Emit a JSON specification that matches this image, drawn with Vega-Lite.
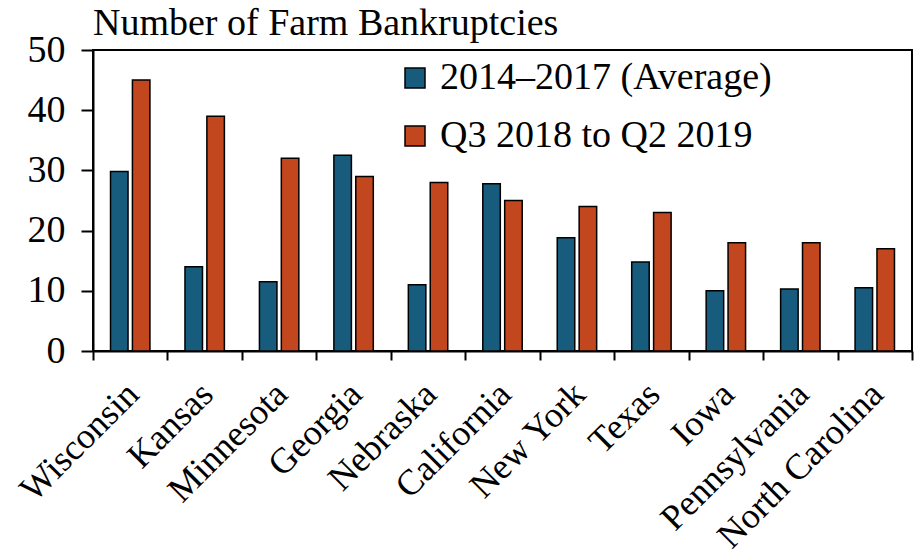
{
  "$schema": "https://vega.github.io/schema/vega-lite/v6.json",
  "width": 819,
  "height": 301,
  "autosize": {"type": "none"},
  "padding": {"left": 93, "top": 50, "right": 7, "bottom": 207},
  "background": "white",
  "title": {
    "text": "Number of Farm Bankruptcies",
    "anchor": "start",
    "frame": "group",
    "font": "Liberation Serif",
    "fontSize": 38,
    "fontWeight": "normal",
    "color": "black",
    "offset": -12
  },
  "config": {
    "view": {"stroke": "black", "strokeWidth": 2},
    "axis": {"grid": false, "domainColor": "black", "domainWidth": 2, "tickColor": "black", "tickWidth": 2, "labelFont": "Liberation Serif", "labelFontSize": 36, "labelColor": "black", "title": null}
  },
  "data": {
    "values": [
      {"state": "Wisconsin", "series": "2014–2017 (Average)", "value": 29.8},
      {"state": "Wisconsin", "series": "Q3 2018 to Q2 2019", "value": 45},
      {"state": "Kansas", "series": "2014–2017 (Average)", "value": 14},
      {"state": "Kansas", "series": "Q3 2018 to Q2 2019", "value": 39},
      {"state": "Minnesota", "series": "2014–2017 (Average)", "value": 11.5},
      {"state": "Minnesota", "series": "Q3 2018 to Q2 2019", "value": 32},
      {"state": "Georgia", "series": "2014–2017 (Average)", "value": 32.5},
      {"state": "Georgia", "series": "Q3 2018 to Q2 2019", "value": 29},
      {"state": "Nebraska", "series": "2014–2017 (Average)", "value": 11},
      {"state": "Nebraska", "series": "Q3 2018 to Q2 2019", "value": 28},
      {"state": "California", "series": "2014–2017 (Average)", "value": 27.8},
      {"state": "California", "series": "Q3 2018 to Q2 2019", "value": 25},
      {"state": "New York", "series": "2014–2017 (Average)", "value": 18.8},
      {"state": "New York", "series": "Q3 2018 to Q2 2019", "value": 24},
      {"state": "Texas", "series": "2014–2017 (Average)", "value": 14.8},
      {"state": "Texas", "series": "Q3 2018 to Q2 2019", "value": 23},
      {"state": "Iowa", "series": "2014–2017 (Average)", "value": 10},
      {"state": "Iowa", "series": "Q3 2018 to Q2 2019", "value": 18},
      {"state": "Pennsylvania", "series": "2014–2017 (Average)", "value": 10.3},
      {"state": "Pennsylvania", "series": "Q3 2018 to Q2 2019", "value": 18},
      {"state": "North Carolina", "series": "2014–2017 (Average)", "value": 10.5},
      {"state": "North Carolina", "series": "Q3 2018 to Q2 2019", "value": 17}
    ]
  },
  "mark": {"type": "bar", "stroke": "black", "strokeWidth": 1.5},
  "encoding": {
    "x": {
      "field": "state", "type": "nominal", "sort": null,
      "scale": {"paddingInner": 0, "paddingOuter": 0},
      "axis": {"tickBand": "extent", "tickSize": 9, "labelAngle": -45, "labelAlign": "right", "labelBaseline": "alphabetic", "labelOffset": 10, "labelPadding": 36, "labelLimit": 400, "labelOverlap": false}
    },
    "xOffset": {
      "field": "series", "type": "nominal",
      "scale": {"paddingInner": 0.2, "paddingOuter": 0.8}
    },
    "y": {
      "field": "value", "type": "quantitative",
      "scale": {"domain": [0, 50], "nice": false},
      "axis": {"values": [0, 10, 20, 30, 40, 50], "tickSize": 12, "labelPadding": 16, "labelFontSize": 38}
    },
    "color": {
      "field": "series", "type": "nominal",
      "scale": {"range": ["#175c7d", "#c2461e"]},
      "legend": {
        "title": null, "orient": "none", "legendX": 303, "legendY": 9,
        "symbolType": "square", "symbolSize": 400, "symbolStrokeColor": "black", "symbolStrokeWidth": 1.5,
        "labelFont": "Liberation Serif", "labelFontSize": 38, "labelColor": "black", "labelOffset": 6, "rowPadding": 20, "labelLimit": 500
      }
    }
  }
}
